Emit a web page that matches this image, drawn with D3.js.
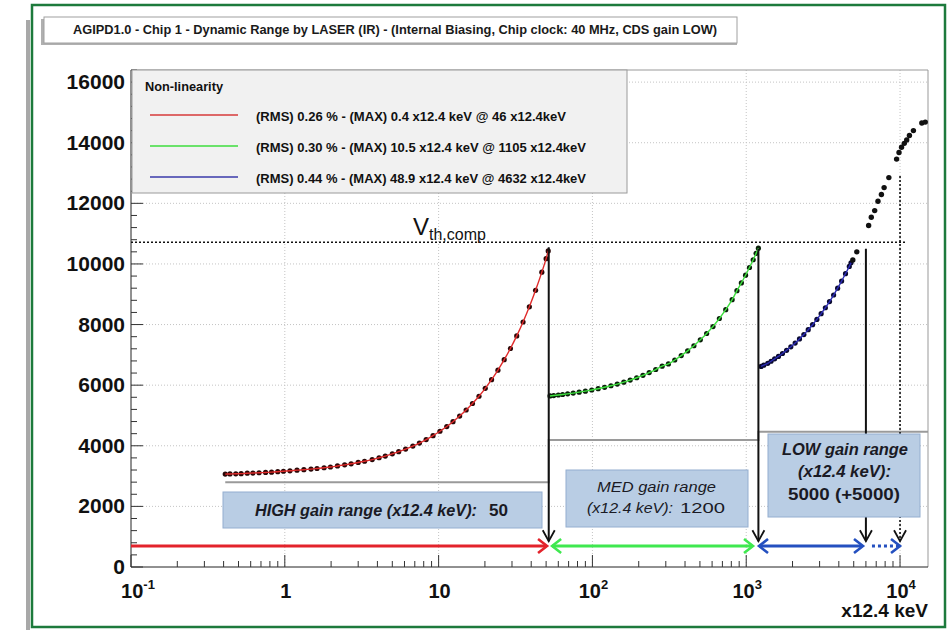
<!DOCTYPE html>
<html><head><meta charset="utf-8">
<script src="https://cdn.jsdelivr.net/npm/d3@7"></script>
<style>body{margin:0;background:#fff}svg{display:block}text{font-family:"Liberation Sans",Arial,Helvetica,sans-serif}</style>
</head><body><svg id="c" width="951" height="630"></svg>
<script>
// ---------- data (x in units of 12.4 keV, y in ADU) ----------
const highX = [0.41,0.44,0.48,0.52,0.57,0.62,0.68,0.75,0.82,0.9,0.98,1.08,1.2,1.33,1.48,1.62,1.8,1.98,2.2,2.45,2.7,3.0,3.3,3.7,4.1,4.5,5.0,5.5,6.1,6.8,7.5,8.3,9.2,10.2,11.3,12.4,13.7,15.1,16.6,18.3,20.1,22.1,24.3,26.7,29.3,32.2,35.4,38.9,42.7,46.9,50.0,51.6];
const highY = [3065,3070,3075,3080,3095,3100,3110,3120,3130,3145,3160,3175,3195,3210,3230,3250,3275,3300,3335,3370,3405,3450,3490,3545,3605,3660,3735,3805,3890,3990,4090,4205,4335,4480,4635,4795,4980,5180,5395,5635,5895,6180,6495,6840,7210,7625,8085,8585,9130,9730,10175,10430];
const medX = [53,56,60,64,69,75,82,90,99,109,120,132,145,160,176,194,213,234,258,284,312,343,378,416,457,503,553,608,669,736,810,870,930,990,1050,1110,1160,1200];
const medY = [5645,5658,5675,5692,5713,5739,5769,5803,5841,5883,5930,5981,6036,6100,6168,6245,6325,6415,6517,6627,6700,6830,6975,7130,7300,7495,7705,7935,8200,8490,8820,9118,9373,9628,9883,10138,10350,10520];
const lowX = [1250,1300,1380,1450,1530,1620,1720,1830,1950,2080,2220,2370,2530,2700,2880,3070,3270,3480,3700,3930,4170,4420,4680,4800];
const lowY = [6620,6660,6720,6790,6870,6950,7045,7150,7265,7390,7525,7670,7830,7995,8170,8360,8555,8760,8975,9200,9435,9680,9920,10040];
const satX = [4932,5235,6250,6505,6843,7190,7568,7880,8460,9500,9850,10230,10660,11050,11510,12220,13860,14590];
const satY = [10130,10400,11270,11540,11760,12070,12290,12520,12850,13460,13680,13850,13980,14090,14240,14400,14650,14680];
// grey gain-bit step trace
const stepX = [0.41,52,52,1200,1200,15200];
const stepY = [2800,2800,4190,4190,4460,4460];
// gain switching points (vertical arrows)
const switchX = [52,1200,6000,10000];
const switchTop = [10550,10500,10500,12900];
const switchDotted = [false,false,false,true];
const arrowTipY = 850;
// range arrows
const rangeStart = [0.1,54.7,1211,6570];
const rangeEnd = [50.7,1107,5745,10000];
const rangeColor = ["#e3232b","#3fe84f","#2450c0","#2450c0"];
const rangeDouble = [false,true,true,false];
const rangeDotted = [false,false,false,true];
const rangeY = 690;
const vthValue = 10720;
const vthEnd = 11100;
// axes
const yTicks = [0,2000,4000,6000,8000,10000,12000,14000,16000];
const xTicks = [0.1,1,10,100,1000,10000];
const xTickBase = ["10","1","10","10","10","10"];
const xTickExp = ["-1","","","2","3","4"];
// legend
const legendTitle = "Non-linearity";
const legendLabels = ["(RMS) 0.26 % - (MAX) 0.4 x12.4 keV @ 46 x12.4keV","(RMS) 0.30 % - (MAX) 10.5 x12.4 keV @ 1105 x12.4keV","(RMS) 0.44 % - (MAX) 48.9 x12.4 keV @ 4632 x12.4keV"];
const legendColors = ["#d63a3a","#3ddc3d","#3a3aaa"];
const titleText = "AGIPD1.0 - Chip 1 - Dynamic Range by LASER (IR) - (Internal Biasing, Chip clock: 40 MHz, CDS gain LOW)";

// ---------- layout ----------
const svg = d3.select("#c");
const L=131, R=928, T=70, B=567;
const x = d3.scaleLog().domain([0.1,15200]).range([L,R]);
const y = d3.scaleLinear().domain([0,16400]).range([B,T]);

// outer frame & shadow
svg.append("rect").attr("x",26).attr("y",20).attr("width",4).attr("height",610).attr("fill","#a8a8a8");
svg.append("rect").attr("x",32).attr("y",5).attr("width",913).attr("height",622).attr("fill","#fff").attr("stroke","#1d7a3c").attr("stroke-width",2.5);

// title box
svg.append("rect").attr("x",41).attr("y",19).attr("width",696).attr("height",26).attr("fill","#b0b0b0");
svg.append("rect").attr("x",44).attr("y",17).attr("width",693).attr("height",26).attr("fill","#fff").attr("stroke","#a0a0a0").attr("stroke-width",1);
svg.append("text").attr("x",73).attr("y",34).attr("font-size",12).attr("font-weight","bold").attr("fill","#1a1a1a")
  .attr("textLength",644).attr("lengthAdjust","spacingAndGlyphs").text(titleText);

// grid
const grid = svg.append("g").attr("stroke","#c4c4c4").attr("stroke-width",1).attr("stroke-dasharray","1,2");
yTicks.filter(v=>v>0).forEach(v=>grid.append("line").attr("x1",L).attr("x2",R).attr("y1",y(v)).attr("y2",y(v)));
xTicks.filter(v=>v>0.1).forEach(v=>grid.append("line").attr("x1",x(v)).attr("x2",x(v)).attr("y1",T).attr("y2",B));

// frame
svg.append("line").attr("x1",L).attr("x2",R).attr("y1",T).attr("y2",T).attr("stroke","#999");
svg.append("line").attr("x1",R).attr("x2",R).attr("y1",T).attr("y2",B).attr("stroke","#999");
svg.append("line").attr("x1",L).attr("x2",R).attr("y1",B).attr("y2",B).attr("stroke","#222");
svg.append("line").attr("x1",L).attr("x2",L).attr("y1",T).attr("y2",B).attr("stroke","#222");

// y ticks
const yMinor = d3.range(0,16401,400);
yMinor.forEach(v=>{
  const major = v%2000===0;
  svg.append("line").attr("x1",L).attr("x2",L+(major?12:6)).attr("y1",y(v)).attr("y2",y(v)).attr("stroke","#333");
});
yTicks.forEach(v=>svg.append("text").attr("x",125).attr("y",y(v)+7).attr("text-anchor","end")
  .attr("font-size",21).attr("font-weight","bold").attr("fill","#111").text(v));
// x ticks
for(let e=-1;e<=4;e++){
  for(let m=1;m<=9;m++){
    const v=m*Math.pow(10,e);
    if(v<0.1||v>15200) continue;
    svg.append("line").attr("x1",x(v)).attr("x2",x(v)).attr("y1",B).attr("y2",B-(m===1?12:6)).attr("stroke","#333");
  }
}
xTicks.forEach((v,i)=>{
  const t = svg.append("text").attr("x",x(v)+(i===0?7:1)).attr("y",598).attr("text-anchor","middle")
    .attr("font-size",20).attr("font-weight","bold").attr("fill","#111");
  t.append("tspan").text(xTickBase[i]);
  if(xTickExp[i]) t.append("tspan").attr("dy",-9).attr("font-size",13).text(xTickExp[i]);
});
svg.append("text").attr("x",928).attr("y",617).attr("text-anchor","end").attr("font-size",19)
  .attr("font-weight","bold").attr("fill","#111").text("x12.4 keV");

// grey step trace
svg.append("path").datum(stepX.map((v,i)=>[v,stepY[i]]))
  .attr("d",d3.line().x(d=>x(d[0])).y(d=>y(d[1]))).attr("fill","none").attr("stroke","#9a9a9a").attr("stroke-width",2);

// Vth line
svg.append("line").attr("x1",L).attr("x2",x(vthEnd)).attr("y1",y(vthValue)).attr("y2",y(vthValue))
  .attr("stroke","#111").attr("stroke-width",1.5).attr("stroke-dasharray","2,2");
const vt = svg.append("text").attr("x",413).attr("y",235).attr("fill","#111");
vt.append("tspan").attr("font-size",24).text("V");
vt.append("tspan").attr("dy",5).attr("font-size",16).text("th,comp");

// series
const line = d3.line().x(d=>x(d[0])).y(d=>y(d[1])).curve(d3.curveMonotoneX);
function series(xs,ys,color,dot){
  const pts = xs.map((v,i)=>[v,ys[i]]);
  svg.append("g").selectAll("circle").data(pts).join("circle")
    .attr("cx",d=>x(d[0])).attr("cy",d=>y(d[1])).attr("r",2.6).attr("fill",dot);
  svg.append("path").datum(pts).attr("d",line).attr("fill","none").attr("stroke",color).attr("stroke-width",1.4);
}
series(highX,highY,"#e02a2a","#2a0808");
series(medX,medY,"#3ee03e","#0a200a");
series(lowX,lowY,"#2b2bb5","#0a0a30");
svg.append("g").selectAll("circle").data(satX.map((v,i)=>[v,satY[i]])).join("circle")
  .attr("cx",d=>x(d[0])).attr("cy",d=>y(d[1])).attr("r",2.7).attr("fill","#111");

// vertical switch arrows
switchX.forEach((v,i)=>{
  const px=x(v), top=y(switchTop[i]), tip=y(arrowTipY);
  svg.append("line").attr("x1",px).attr("x2",px).attr("y1",top).attr("y2",tip)
    .attr("stroke","#111").attr("stroke-width",switchDotted[i]?1.6:2).attr("stroke-dasharray",switchDotted[i]?"2,2":null);
  svg.append("path").attr("d",`M${px-6},${tip-11}L${px},${tip}L${px+6},${tip-11}`)
    .attr("fill","none").attr("stroke","#111").attr("stroke-width",1.8);
});

// annotation boxes
function box(x0,y0,w,h){
  svg.append("rect").attr("x",x0).attr("y",y0).attr("width",w).attr("height",h)
    .attr("fill","#b9cde4").attr("stroke","#94aed0").attr("stroke-width",1);
}
function txt(s,x0,y0,w,size,bold,italic){
  svg.append("text").attr("x",x0).attr("y",y0).attr("font-size",size)
    .attr("font-weight",bold?"bold":"normal").attr("font-style",italic?"italic":"normal")
    .attr("fill","#1a1a24").attr("textLength",w).attr("lengthAdjust","spacingAndGlyphs").text(s);
}
box(223,492,319,36);
txt("HIGH gain range (x12.4 keV):",255,516,222,16,true,true);
txt("50",489,516,19,16,true,false);
box(566,470,182,57);
txt("MED gain range",597,492,119,15,false,true);
txt("(x12.4 keV):",587,513,86,15,false,true);
txt("1200",680,513,45,15,false,false);
box(768,434,152,83);
txt("LOW gain range",782,455,126,16,true,true);
txt("(x12.4 keV):",798,477,93,16,true,true);
txt("5000 (+5000)",788,500,112,16,true,false);

// horizontal range arrows
rangeStart.forEach((s,i)=>{
  const x1=x(s), x2=x(rangeEnd[i]), py=y(rangeY), c=rangeColor[i];
  svg.append("line").attr("x1",x1).attr("x2",x2-1).attr("y1",py).attr("y2",py).attr("stroke",c)
    .attr("stroke-width",3).attr("stroke-dasharray",rangeDotted[i]?"3,3":null);
  svg.append("path").attr("d",`M${x2-9},${py-7}L${x2},${py}L${x2-9},${py+7}`).attr("fill","none").attr("stroke",c).attr("stroke-width",2.6);
  if(rangeDouble[i]) svg.append("path").attr("d",`M${x1+9},${py-7}L${x1},${py}L${x1+9},${py+7}`).attr("fill","none").attr("stroke",c).attr("stroke-width",2.6);
});

// legend
svg.append("rect").attr("x",132).attr("y",70).attr("width",495).attr("height",123)
  .attr("fill","#f1f1f1").attr("stroke","#9a9a9a").attr("stroke-width",1);
svg.append("text").attr("x",145).attr("y",91).attr("font-size",12).attr("font-weight","bold").attr("fill","#111")
  .attr("textLength",78).attr("lengthAdjust","spacingAndGlyphs").text(legendTitle);
const ly=[115,146,177];
legendLabels.forEach((s,i)=>{
  svg.append("line").attr("x1",150).attr("x2",238).attr("y1",ly[i]).attr("y2",ly[i]).attr("stroke",legendColors[i]).attr("stroke-width",1.6);
  svg.append("text").attr("x",256).attr("y",ly[i]+6).attr("font-size",12).attr("font-weight","bold").attr("fill","#111")
    .attr("textLength",[310,330,330][i]).attr("lengthAdjust","spacingAndGlyphs").text(s);
});
</script></body></html>
